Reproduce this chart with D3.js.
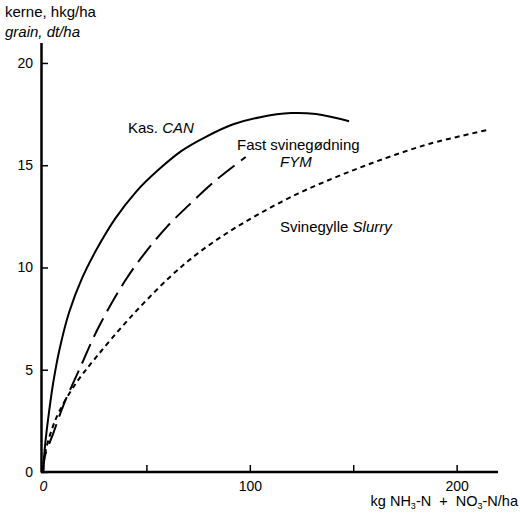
<!DOCTYPE html>
<html>
<head>
<meta charset="utf-8">
<script src="https://cdn.jsdelivr.net/npm/d3@7"></script>
<style>
  body { margin: 0; background: #fff; }
  svg { font-family: "Liberation Sans", Arial, sans-serif; }
</style>
</head>
<body>
<script>
var w = 520; // Width of the page
var h = 515; // Height of the page

// Kas. CAN (solid)
var canN = [0, 1, 3, 5, 8, 12.6, 19, 26, 35, 45, 55, 67, 79, 92, 105, 120, 132, 148];
var canYield = [0, 1.3, 3.0, 4.4, 6.0, 7.8, 9.5, 10.9, 12.4, 13.7, 14.7, 15.7, 16.4, 17.0, 17.35, 17.55, 17.5, 17.15];

// Fast svinegødning FYM (long dashes)
var fymN = [0, 1, 5, 10, 17.5, 27, 40, 50, 60, 70, 84, 98];
var fymYield = [0, 0.8, 1.9, 3.3, 5.0, 7.1, 9.4, 10.8, 12.0, 13.0, 14.3, 15.4];

// Svinegylle Slurry (short dashes)
var slurryN = [0, 1, 4, 7.8, 16, 25.6, 41.7, 61, 75, 90, 105, 123, 140, 155, 170, 187, 216];
var slurryYield = [0, 0.9, 2.0, 2.95, 4.35, 5.6, 7.5, 9.5, 10.7, 11.75, 12.65, 13.6, 14.35, 14.95, 15.5, 16.05, 16.75];

// Ticks
var yTicks = [0, 5, 10, 15, 20];
var xTicks = [0, 50, 100, 150, 200];
var xTickLabels = [0, 100, 200];

// Scales
var xScale = d3.scaleLinear()
    .domain([0, 220])
    .range([43, 498]);

var yScale = d3.scaleLinear()
    .domain([0, 21])
    .range([472, 42.5]);

var svg = d3.select("body")
    .append("svg")
    .attr("width", w)
    .attr("height", h);

// y axis, ticks pointing inward
var yAxis = d3.axisLeft(yScale)
    .tickValues(yTicks)
    .tickSizeInner(-7)
    .tickSizeOuter(0)
    .tickPadding(8)
    .tickFormat(d3.format("d"));

var gy = svg.append("g")
    .attr("transform", "translate(41,0)")
    .call(yAxis);
gy.select(".domain").attr("stroke-width", 2.5);
gy.selectAll(".tick line").attr("stroke-width", 1.5);
gy.selectAll(".tick text")
    .attr("font-size", 14)
    .attr("font-family", "Liberation Sans, Arial, sans-serif")
    .attr("fill", "#000");

// x axis, ticks pointing up
var xAxis = d3.axisBottom(xScale)
    .tickValues(xTicks)
    .tickSizeInner(-7)
    .tickSizeOuter(0)
    .tickPadding(9)
    .tickFormat(function(d) { return xTickLabels.indexOf(d) >= 0 ? d : ""; });

var gx = svg.append("g")
    .attr("transform", "translate(0,472)")
    .call(xAxis);
gx.select(".domain").attr("stroke-width", 2.5);
gx.selectAll(".tick line").attr("stroke-width", 1.5);
gx.selectAll(".tick text")
    .attr("font-size", 14)
    .attr("font-family", "Liberation Sans, Arial, sans-serif")
    .attr("fill", "#000")
    .attr("font-style", function(d) { return d === 0 ? "italic" : "normal"; });
// the x axis line starts at the y axis
gx.select(".domain").attr("d", "M41,0H498");

// Curves
var line = d3.line()
    .x(function(d) { return xScale(d[0]); })
    .y(function(d) { return yScale(d[1]); })
    .curve(d3.curveCatmullRom.alpha(0.5));

function pairs(xs, ys) {
    return xs.map(function(x, i) { return [x, ys[i]]; });
}

svg.append("path")
    .attr("d", line(pairs(canN, canYield)))
    .attr("fill", "none")
    .attr("stroke", "#000")
    .attr("stroke-width", 2);

svg.append("path")
    .attr("d", line(pairs(fymN, fymYield)))
    .attr("fill", "none")
    .attr("stroke", "#000")
    .attr("stroke-width", 2)
    .attr("stroke-dasharray", "21,8");

svg.append("path")
    .attr("d", line(pairs(slurryN, slurryYield)))
    .attr("fill", "none")
    .attr("stroke", "#000")
    .attr("stroke-width", 2)
    .attr("stroke-dasharray", "5,4");

// Texts
function label(x, y, parts, size) {
    var t = svg.append("text")
        .attr("x", x)
        .attr("y", y)
        .attr("font-size", size || 15)
        .attr("fill", "#000");
    parts.forEach(function(p) {
        t.append("tspan")
            .attr("font-style", p[1] ? "italic" : "normal")
            .text(p[0]);
    });
    return t;
}

label(5, 17, [["kerne, hkg/ha", false]], 15);
label(5, 37, [["grain, dt/ha", true]], 15);

label(128, 133, [["Kas. ", false], ["CAN", true]]);
label(237, 150, [["Fast svinegødning", false]]);
label(280, 167, [["FYM", true]]);
label(280, 232, [["Svinegylle ", false], ["Slurry", true]]);

// x axis title with subscripts
var xt = svg.append("text")
    .attr("x", 518)
    .attr("y", 506)
    .attr("text-anchor", "end")
    .attr("font-size", 14.5)
    .attr("fill", "#000")
    .style("white-space", "pre");
xt.append("tspan").text("kg NH");
xt.append("tspan").attr("font-size", 9).attr("dy", 3).text("3");
xt.append("tspan").attr("dy", -3).text("-N  +  NO");
xt.append("tspan").attr("font-size", 9).attr("dy", 3).text("3");
xt.append("tspan").attr("dy", -3).text("-N/ha");
</script>
</body>
</html>
